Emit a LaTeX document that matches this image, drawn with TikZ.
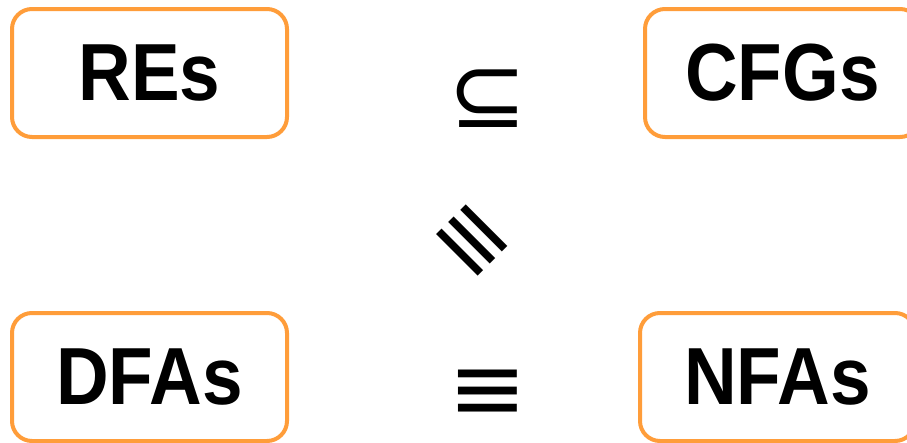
\documentclass[tikz,border=0pt]{standalone}
\usepackage{fontspec}
\setmainfont{Liberation Sans}
\newfontfamily\boxfont[FakeStretch=0.9]{Liberation Sans Bold}
\newfontfamily\symfont{DejaVu Sans}
\usepackage{tikz}
\usetikzlibrary{positioning}
\definecolor{frame}{HTML}{FF9D3A}
\tikzset{
  blk/.style={rectangle,rounded corners=20pt,draw=frame,line width=4pt,fill=white,
    minimum width=275pt,minimum height=128pt,inner sep=0pt,
    font=\fontsize{81}{96}\selectfont\boxfont},
  rel/.style={inner sep=0pt,font=\fontsize{94}{110}\selectfont\symfont},
}
\begin{document}
\begin{tikzpicture}[x=1pt,y=1pt]
  \useasboundingbox (0,0) rectangle (907,-442);
  \clip (0,0) rectangle (907,-442);
  \node[blk] (re) at (149.5,-73) {REs};
  \node[blk] (cfg) at (782.5,-73) {CFGs};
  \node[blk] (dfa) at (149.5,-377) {DFAs};
  \node[blk] (nfa) at (777.5,-377) {NFAs};
  \node[rel] (sub) at (487.5,-99) {⊆};
  \node[rel,rotate=-45] (eqd) at (469,-243.5) {≡};
  \node[rel] (eqb) at (487.5,-395) {≡};
\end{tikzpicture}
\end{document}
